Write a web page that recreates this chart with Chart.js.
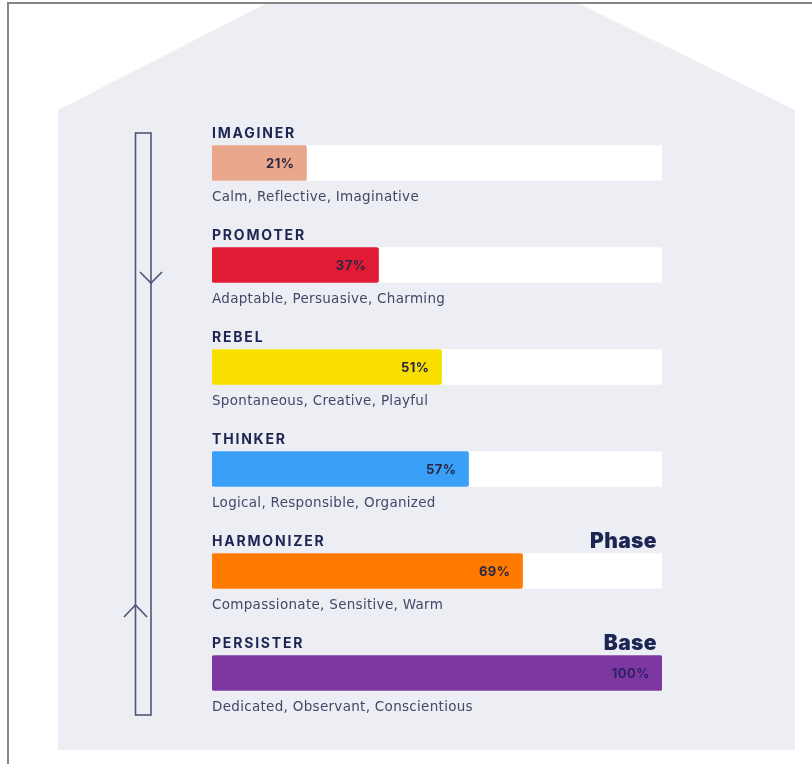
<!DOCTYPE html>
<html>
<head>
<meta charset="utf-8">
<script src="https://cdn.jsdelivr.net/npm/chart.js@4/dist/chart.umd.min.js"></script>
<style>
  html, body { margin: 0; padding: 0; background: #ffffff; }
  #wrap { position: relative; width: 812px; height: 764px; }
</style>
</head>
<body>
<div id="wrap"><canvas id="chart" width="812" height="764"></canvas></div>
<script>
// Personality types, top to bottom
const types = ['IMAGINER', 'PROMOTER', 'REBEL', 'THINKER', 'HARMONIZER', 'PERSISTER'];
const percents = [21, 37, 51, 57, 69, 100];
const traits = [
    'Calm, Reflective, Imaginative',
    'Adaptable, Persuasive, Charming',
    'Spontaneous, Creative, Playful',
    'Logical, Responsible, Organized',
    'Compassionate, Sensitive, Warm',
    'Dedicated, Observant, Conscientious'
];
const tags = ['', '', '', '', 'Phase', 'Base'];
const barColors = ['#e9a78b', '#e01b33', '#f8df00', '#3a9ff6', '#ff7b00', '#7c37a1'];
const trackMax = types.map(() => 100);

const NAVY = '#1d2553';
const FONT = 'Inter, "Open Sans", sans-serif';

// House shape, frame border and the loop arrow behind the bars
const backdrop = {
    id: 'backdrop',
    beforeDraw(chart) {
        const ctx = chart.ctx;
        ctx.save();
        ctx.fillStyle = '#eceef3';
        ctx.beginPath();
        ctx.moveTo(58, 750);
        ctx.lineTo(58, 110);
        ctx.lineTo(267, 3);
        ctx.lineTo(578, 3);
        ctx.lineTo(795, 110);
        ctx.lineTo(795, 750);
        ctx.closePath();
        ctx.fill();

        // frame
        ctx.strokeStyle = '#858585';
        ctx.lineWidth = 2;
        ctx.beginPath();
        ctx.moveTo(812, 3);
        ctx.lineTo(8, 3);
        ctx.lineTo(8, 764);
        ctx.stroke();

        // loop arrow
        ctx.strokeStyle = '#50557a';
        ctx.lineWidth = 1.6;
        ctx.strokeRect(135.5, 133, 15.5, 582);
        ctx.beginPath();
        ctx.moveTo(140, 272);
        ctx.lineTo(151, 283);
        ctx.lineTo(162, 272);
        ctx.moveTo(124, 617);
        ctx.lineTo(135.5, 605);
        ctx.lineTo(147, 617);
        ctx.stroke();
        ctx.restore();
    }
};

// Names, descriptions, percentages and phase tags
const rowText = {
    id: 'rowText',
    afterDatasetsDraw(chart) {
        const ctx = chart.ctx;
        const area = chart.chartArea;
        const meta = chart.getDatasetMeta(0);
        ctx.save();
        meta.data.forEach((bar, i) => {
            const top = bar.y - bar.height / 2;
            const bottom = bar.y + bar.height / 2;

            ctx.textAlign = 'left';
            ctx.textBaseline = 'alphabetic';
            ctx.fillStyle = NAVY;
            ctx.font = 'bold 14px ' + FONT;
            ctx.letterSpacing = '1.8px';
            ctx.fillText(types[i], area.left, top - 8);
            ctx.letterSpacing = '0px';

            ctx.fillStyle = '#414868';
            ctx.font = '13.5px "DejaVu Sans", ' + FONT;
            ctx.letterSpacing = '0.3px';
            ctx.fillText(traits[i], area.left, bottom + 20);
            ctx.letterSpacing = '0px';

            ctx.textAlign = 'right';
            ctx.textBaseline = 'middle';
            ctx.fillStyle = i === 5 ? '#2c1f63' : '#2b2745';
            ctx.font = 'bold 13px ' + FONT;
            ctx.letterSpacing = '0.5px';
            ctx.fillText(percents[i] + '%', bar.x - 12, bar.y + 1);
            ctx.letterSpacing = '0px';

            if (tags[i]) {
                ctx.textBaseline = 'alphabetic';
                ctx.fillStyle = NAVY;
                ctx.font = '900 21px ' + FONT;
                ctx.letterSpacing = '0.4px';
                ctx.fillText(tags[i], area.right - 5, top - 6);
                ctx.letterSpacing = '0px';
            }
        });
        ctx.restore();
    }
};

new Chart(document.getElementById('chart'), {
    type: 'bar',
    data: {
        labels: types,
        datasets: [
            {
                data: percents,
                backgroundColor: barColors,
                barThickness: 35,
                grouped: false,
                order: 1,
                borderRadius: 2,
                borderSkipped: false
            },
            {
                data: trackMax,
                backgroundColor: '#ffffff',
                barThickness: 35,
                grouped: false,
                order: 2,
                borderRadius: 2,
                borderSkipped: false
            }
        ]
    },
    options: {
        indexAxis: 'y',
        responsive: false,
        animation: false,
        layout: { padding: { left: 212, right: 150, top: 112, bottom: 40 } },
        scales: {
            x: { display: false, min: 0, max: 100 },
            y: { display: false }
        },
        plugins: {
            legend: { display: false },
            tooltip: { enabled: false }
        }
    },
    plugins: [backdrop, rowText]
});
</script>
</body>
</html>
